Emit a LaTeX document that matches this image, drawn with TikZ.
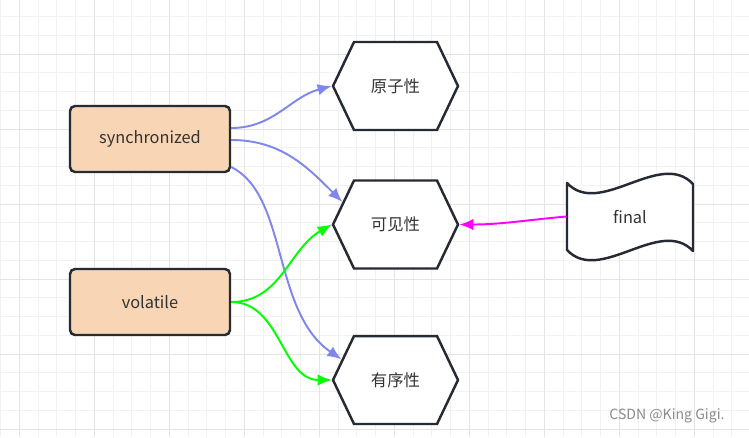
\documentclass[tikz,border=0pt]{standalone}
\usepackage{fontspec}
\setmainfont{Noto Sans CJK SC}
\usetikzlibrary{arrows.meta,shapes.symbols}
\definecolor{peach}{HTML}{F8D5B4}
\definecolor{edgeline}{HTML}{262B33}
\definecolor{labeltext}{HTML}{333333}
\definecolor{syncblue}{HTML}{7F87EB}
\definecolor{volgreen}{HTML}{00FF00}
\definecolor{finalpink}{HTML}{FF00FF}
\definecolor{minorgrid}{HTML}{F2F2F2}
\definecolor{majorgrid}{HTML}{E4E4E4}
\begin{document}
\begin{tikzpicture}[x=0.02cm,y=-0.02cm,
	font=\fontsize{9.3}{11}\selectfont,text=labeltext,
	keybox/.style={draw=edgeline,line width=1.4pt,fill=peach,rounded corners=0.1cm,minimum width=3.2cm,minimum height=1.32cm},
	propbox/.style={signal,signal to=west and east,signal pointer angle=129,draw=edgeline,line width=1.4pt,fill=white,minimum width=2.5cm,minimum height=1.76cm,inner sep=0pt},
	flagbox/.style={minimum width=2.52cm,minimum height=1.34cm,inner sep=0pt},
	link/.style={line width=1.1pt,-{Latex[length=2.8mm,width=2.3mm]}},
	]
	\useasboundingbox (0,0) rectangle (749,437);
	\fill[white] (0,0) rectangle (749,437);
	% grid
	\foreach \i in {0,...,39}
		\draw[minorgrid,line width=0.5pt] ({0.55+18.75*\i},0) -- ({0.55+18.75*\i},437);
	\foreach \j in {0,...,22}
		\draw[minorgrid,line width=0.5pt] (0,{16.5+18.75*\j}) -- (749,{16.5+18.75*\j});
	\foreach \i in {0,...,9}
		\draw[majorgrid,line width=0.5pt] ({19.3+75*\i},0) -- ({19.3+75*\i},437);
	\foreach \j in {0,...,5}
		\draw[majorgrid,line width=0.5pt] (0,{54+75*\j}) -- (749,{54+75*\j});

	\node[keybox] (sync) at (150,139) {synchronized};
	\node[keybox] (vol) at (150,302) {volatile};
	\node[propbox] (yzx) at (395.5,86) {原子性};
	\node[propbox] (kjx) at (395.5,224.5) {可见性};
	\node[propbox] (yxx) at (395.5,380) {有序性};
	% wavy flag round final
	\draw[edgeline,line width=1.4pt,fill=white,line join=round] (567,183) .. controls (600,218) and (660,149) .. (693,184)
		-- (693,251) .. controls (660,216) and (600,285) .. (567,250) -- cycle;
	\node[flagbox] (final) at (630,216.5) {final};

	\draw[link,syncblue] (sync.east |- 0,128) to[out=0,in=195] (yzx.west);
	\draw[link,syncblue] (sync.east |- 0,140) to[out=0,in=135] (kjx.157);
	\draw[link,syncblue] (sync.east |- 0,167) .. controls (288,195) and (272,312) .. (yxx.159);
	\draw[link,volgreen] (vol.east) to[out=0,in=210] (kjx.west);
	\draw[link,volgreen] (vol.east) to[out=0,in=180] (yxx.west);
	\draw[link,finalpink] (final.west) to[out=185,in=0] (kjx.east);

	\node[text=black!45,font=\fontsize{8}{10}\selectfont] (mark) at (667,416) {CSDN @King Gigi.};
\end{tikzpicture}
\end{document}
